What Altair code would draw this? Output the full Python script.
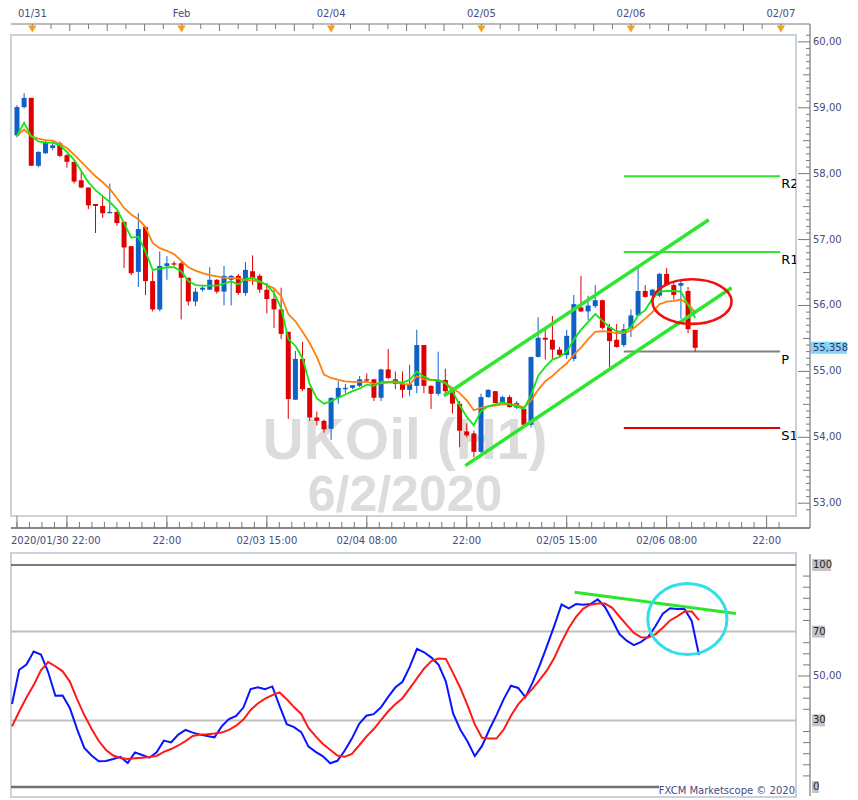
import altair as alt
import numpy as np
import pandas as pd

# ---------------- data ----------------
opens = [58.58, 59.01, 59.15, 58.12, 58.31, 58.39, 58.46, 58.28, 58.18, 57.90,
         57.79, 57.54, 57.51, 57.40, 57.42, 57.27, 56.90, 56.51, 57.19, 56.37,
         55.94, 56.60, 56.64, 56.64, 56.42, 56.06, 56.24, 56.24, 56.39, 56.21,
         56.39, 56.45, 56.19, 56.52, 56.45, 56.24, 56.10, 55.94, 55.60, 54.57,
         55.19, 54.75, 54.30, 54.25, 54.13, 54.60, 54.73, 54.75, 54.78, 54.88,
         54.88, 54.60, 55.03, 54.88, 54.81, 54.72, 54.78, 55.40, 54.78, 54.66,
         54.87, 54.70, 54.51, 54.09, 54.06, 53.78, 54.61, 54.70, 54.52, 54.61,
         54.45, 54.43, 54.19, 55.22, 55.51, 55.48, 55.33, 55.25, 55.19, 55.97,
         55.91, 55.99, 56.08, 55.67, 55.48, 55.40, 55.66, 55.85, 56.22, 56.15,
         56.15, 56.48, 56.31, 56.30, 56.22, 55.63]
closes = [59.01, 59.15, 58.12, 58.33, 58.48, 58.43, 58.27, 58.18, 57.88, 57.79,
          57.52, 57.51, 57.40, 57.42, 57.25, 56.88, 56.49, 57.16, 56.37, 55.94,
          56.60, 56.64, 56.62, 56.42, 56.06, 56.21, 56.27, 56.39, 56.21, 56.45,
          56.45, 56.19, 56.54, 56.42, 56.24, 56.10, 55.94, 55.57, 54.58, 55.19,
          54.73, 54.30, 54.25, 54.12, 54.60, 54.75, 54.75, 54.79, 54.88, 54.86,
          54.60, 55.03, 54.90, 54.81, 54.72, 54.81, 55.40, 54.78, 54.66, 54.87,
          54.70, 54.51, 54.10, 54.03, 53.78, 54.61, 54.72, 54.52, 54.61, 54.46,
          54.52, 54.19, 55.22, 55.51, 55.48, 55.33, 55.25, 55.54, 56.02, 55.91,
          56.00, 56.08, 55.66, 55.46, 55.37, 55.64, 55.85, 56.22, 56.13, 56.24,
          56.48, 56.31, 56.16, 56.34, 55.64, 55.358]
highs = [59.04, 59.22, 59.15, 58.34, 58.51, 58.48, 58.49, 58.30, 58.18, 58.03,
         57.79, 57.54, 57.66, 57.85, 57.43, 57.27, 56.90, 57.40, 57.21, 56.52,
         56.82, 56.75, 56.67, 56.66, 56.42, 56.27, 56.30, 56.58, 56.40, 56.60,
         56.46, 56.48, 56.66, 56.76, 56.48, 56.34, 56.24, 56.27, 55.60, 55.31,
         55.45, 54.75, 54.39, 54.27, 54.60, 54.85, 54.81, 54.79, 54.93, 54.97,
         54.88, 55.04, 55.34, 55.00, 55.00, 55.10, 55.63, 55.40, 54.79, 55.30,
         55.04, 54.73, 54.55, 54.21, 54.10, 54.66, 54.73, 54.70, 54.63, 54.64,
         54.55, 54.46, 55.22, 55.82, 55.64, 55.84, 55.37, 55.63, 56.16, 56.45,
         56.15, 56.31, 56.09, 55.72, 55.72, 55.72, 55.94, 56.57, 56.31, 56.25,
         56.49, 56.57, 56.34, 56.37, 56.28, 55.63]
lows = [58.55, 58.99, 58.12, 58.10, 58.30, 58.36, 58.25, 58.09, 57.85, 57.78,
        57.46, 57.10, 57.33, 57.40, 57.21, 56.57, 56.46, 56.28, 56.16, 55.91,
        55.91, 56.39, 56.60, 55.79, 56.00, 55.99, 56.21, 56.24, 56.18, 56.00,
        56.00, 56.16, 56.15, 56.31, 56.19, 55.88, 55.66, 55.49, 54.28, 54.57,
        54.70, 54.25, 54.18, 54.07, 53.96, 54.51, 54.67, 54.73, 54.76, 54.85,
        54.55, 54.55, 54.88, 54.73, 54.60, 54.63, 54.67, 54.67, 54.43, 54.63,
        54.66, 54.36, 53.85, 54.00, 53.70, 53.76, 54.60, 54.52, 54.51, 54.45,
        54.43, 54.18, 54.15, 55.21, 55.18, 55.19, 55.22, 55.19, 55.15, 55.90,
        55.78, 55.96, 55.64, 55.06, 55.36, 55.37, 55.52, 55.84, 56.12, 56.13,
        56.13, 56.30, 56.09, 55.80, 55.58, 55.30]
ma_fast = [58.58, 58.77, 58.57, 58.49, 58.47, 58.47, 58.43, 58.33, 58.21, 58.04,
           57.87, 57.75, 57.66, 57.57, 57.46, 57.25, 57.03, 57.04, 56.82, 56.54,
           56.56, 56.58, 56.58, 56.52, 56.37, 56.31, 56.30, 56.30, 56.30, 56.33,
           56.37, 56.32, 56.40, 56.42, 56.37, 56.31, 56.19, 55.96, 55.49, 55.39,
           55.20, 54.81, 54.59, 54.51, 54.55, 54.60, 54.65, 54.70, 54.74, 54.80,
           54.78, 54.84, 54.84, 54.85, 54.83, 54.87, 55.00, 54.92, 54.87, 54.87,
           54.83, 54.70, 54.49, 54.31, 54.18, 54.40, 54.47, 54.50, 54.53, 54.50,
           54.47, 54.43, 54.64, 54.93, 55.07, 55.18, 55.22, 55.30, 55.48, 55.63,
           55.75, 55.87, 55.77, 55.67, 55.61, 55.60, 55.67, 55.85, 55.93, 56.10,
           56.21, 56.22, 56.22, 56.21, 56.01, 55.81]
ma_slow = [58.58, 58.67, 58.57, 58.53, 58.51, 58.50, 58.45, 58.39, 58.29, 58.18,
           58.07, 57.96, 57.87, 57.77, 57.63, 57.48, 57.38, 57.31, 57.19, 56.95,
           56.87, 56.83, 56.78, 56.68, 56.58, 56.53, 56.49, 56.46, 56.44, 56.42,
           56.42, 56.41, 56.39, 56.38, 56.36, 56.31, 56.26, 56.14, 55.87, 55.76,
           55.60, 55.43, 55.22, 54.95, 54.90, 54.87, 54.85, 54.84, 54.84, 54.84,
           54.81, 54.82, 54.83, 54.83, 54.81, 54.80, 54.93, 54.88, 54.87, 54.86,
           54.82, 54.75, 54.67, 54.56, 54.41, 54.45, 54.47, 54.48, 54.50, 54.50,
           54.49, 54.45, 54.56, 54.72, 54.85, 54.93, 55.03, 55.12, 55.25, 55.36,
           55.49, 55.60, 55.61, 55.60, 55.58, 55.58, 55.62, 55.71, 55.80, 55.90,
           56.02, 56.06, 56.07, 56.09, 56.02, 55.90]
stoch_k = [37.4, 52.8, 55.2, 61.0, 59.7, 51.8, 41.1, 41.2, 35.6, 26.1,
           17.6, 14.2, 11.6, 11.7, 12.6, 13.6, 10.8, 15.6, 14.4, 13.2,
           15.6, 20.9, 20.1, 23.6, 25.7, 24.5, 23.6, 23.0, 22.4, 27.3,
           30.6, 32.0, 35.8, 44.1, 44.9, 44.1, 45.3, 36.5, 28.3, 27.0,
           24.7, 18.2, 15.8, 13.8, 10.7, 11.8, 16.3, 21.8, 28.4, 32.1,
           32.8, 35.8, 40.5, 44.8, 47.4, 54.1, 62.2, 60.7, 58.3, 55.0,
           47.5, 33.1, 25.8, 20.5, 13.9, 18.5, 25.8, 32.4, 39.6, 45.6,
           44.6, 40.5, 47.1, 55.0, 63.7, 72.7, 82.2, 80.5, 82.4, 82.1,
           82.4, 84.5, 81.1, 75.2, 68.9, 65.9, 63.9, 65.4, 67.8, 72.5,
           78.1, 80.5, 80.2, 80.2, 74.8, 59.5]
stoch_d = [27.3, 34.0, 40.3, 45.9, 52.6, 56.3, 54.4, 52.1, 47.5, 39.6,
           32.4, 26.2, 20.7, 16.7, 14.2, 13.1, 12.6, 12.9, 13.2, 13.5,
           14.0, 15.8, 17.1, 18.7, 20.7, 23.0, 23.6, 23.8, 24.1, 24.5,
           25.7, 27.6, 30.4, 34.7, 37.6, 39.8, 41.4, 42.6, 39.5, 36.0,
           32.9, 26.6, 22.8, 19.4, 16.8, 14.2, 13.6, 14.9, 18.7, 22.7,
           26.0, 30.0, 34.0, 37.3, 40.0, 44.4, 48.9, 53.4, 56.7, 57.9,
           57.7, 51.3, 44.6, 36.8, 28.2, 22.2, 21.8, 21.8, 25.9, 32.1,
           37.2, 40.8, 44.3, 48.4, 52.6, 58.2, 65.3, 71.6, 76.6, 80.4,
           82.1, 82.6, 82.6, 80.7, 76.8, 73.0, 69.4, 67.4, 67.3, 68.9,
           71.7, 75.0, 76.9, 79.0, 79.0, 75.2]

day_labels = ["01/31", "Feb", "02/04", "02/05", "02/06", "02/07"]
day_pos = [2.15, 23.05, 44.0, 65.05, 86.0, 107.0]
time_labels = ["2020/01/30 22:00", "22:00", "02/03 15:00", "02/04 08:00",
               "22:00", "02/05 15:00", "02/06 08:00", "22:00"]
time_pos = [0, 21, 35, 49, 63, 77, 91, 105]
time_major = [0, 7, 21, 35, 49, 63, 77, 91, 105]
price_ticks = [53, 54, 55, 56, 57, 58, 59, 60]
stoch_levels = [100, 70, 50, 30, 0]
pivot_names = ["R2", "R1", "P", "S1"]
pivot_values = [57.96, 56.81, 55.30, 54.14]
pivot_colors = ["#2ee62e", "#2ee62e", "#808080", "#e00000"]
pivot_span = [85.0, 106.9]
last_price = 55.358
chan_upper_bar = [59.8, 96.9]
chan_upper_price = [54.63, 57.30]
chan_lower_bar = [62.8, 100.1]
chan_lower_price = [53.57, 56.27]
stoch_trend_bar = [77.8, 100.1]
stoch_trend_val = [87.7, 78.2]
red_ring = [94.55, 56.06]
cyan_ring = [93.4, 75.7]

# ---------------- layout / style ----------------
W, H1, H2, GAP = 785, 481, 244, 37
X_DOMAIN = [-0.137, 108.42]
P_DOMAIN = [52.806, 60.104]
S_DOMAIN = [-4.5, 105.4]
FONT = "DejaVu Sans"
LBL = "#4a4a80"
AX = "#7a7a7a"
BLUE, RED = "#1060c8", "#e00000"
GREEN = "#2ee62e"

xs = alt.Scale(domain=X_DOMAIN, nice=False, zero=False)
ps = alt.Scale(domain=P_DOMAIN, nice=False, zero=False)
ss = alt.Scale(domain=S_DOMAIN, nice=False, zero=False)


def XQ(f):
    return alt.X(f"{f}:Q", scale=xs, axis=None, title=None)


def PQ(f):
    return alt.Y(f"{f}:Q", scale=ps, axis=None, title=None)


def SQ(f):
    return alt.Y(f"{f}:Q", scale=ss, axis=None, title=None)


def ellipse_path(b):
    k = 0.5523
    kb = k * b
    return (f"M -1 0 C -1 {-kb:.4f} {-k} {-b:.4f} 0 {-b:.4f} "
            f"C {k} {-b:.4f} 1 {-kb:.4f} 1 0 "
            f"C 1 {kb:.4f} {k} {b:.4f} 0 {b:.4f} "
            f"C {-k} {b:.4f} -1 {kb:.4f} -1 0 Z")


one = pd.DataFrame({"a": [0]})
n = len(opens)
candles = pd.DataFrame({"bar": range(n), "open": opens, "close": closes,
                        "high": highs, "low": lows, "fast": ma_fast, "slow": ma_slow,
                        "k": stoch_k, "d": stoch_d})
candles["col"] = np.where(candles["close"] >= candles["open"], BLUE, RED)
dir_color = alt.Color("col:N", scale=None, legend=None)

# ---------------- main panel ----------------
wm1 = alt.Chart(one).mark_text(font="Liberation Sans", fontWeight="bold", fontSize=57,
                               color="#dcdcdc", align="center", baseline="alphabetic").encode(
    x=alt.value(394), y=alt.value(424), text=alt.value("UKOil (H1)"))
wm2 = alt.Chart(one).mark_text(font="Liberation Sans", fontWeight="bold", fontSize=50,
                               color="#dcdcdc", align="center", baseline="alphabetic").encode(
    x=alt.value(394), y=alt.value(476), text=alt.value("6/2/2020"))

piv = pd.DataFrame({"name": pivot_names, "value": pivot_values, "col": pivot_colors,
                    "start": pivot_span[0], "end": pivot_span[1]})
pivot_lines = alt.Chart(piv).mark_rule(strokeWidth=2).encode(
    x=XQ("start"), x2="end:Q", y=PQ("value"),
    color=alt.Color("col:N", scale=None, legend=None))
pivot_text = alt.Chart(piv).mark_text(font=FONT, fontSize=13, color="black", align="left",
                                      baseline="top", dy=2, dx=1, clip=True).encode(
    x=XQ("end"), y=PQ("value"), text="name:N")

wicks = alt.Chart(candles).mark_rule(strokeWidth=1, clip=True).encode(
    x=XQ("bar"), y=PQ("low"), y2="high:Q", color=dir_color)
bodies = alt.Chart(candles).mark_bar(size=5, clip=True).encode(
    x=XQ("bar"), y=PQ("open"), y2="close:Q", color=dir_color)
slow_line = alt.Chart(candles).mark_line(color="#ff7f0f", strokeWidth=1.8, clip=True).encode(
    x=XQ("bar"), y=PQ("slow"))
fast_line = alt.Chart(candles).mark_line(color="#14e614", strokeWidth=1.8, clip=True).encode(
    x=XQ("bar"), y=PQ("fast"))

chan = pd.DataFrame({"line": ["u", "u", "l", "l"],
                     "bar": chan_upper_bar + chan_lower_bar,
                     "price": chan_upper_price + chan_lower_price})
channel = alt.Chart(chan).mark_line(color=GREEN, strokeWidth=3.5).encode(
    x=XQ("bar"), y=PQ("price"), detail="line:N")

ring1 = alt.Chart(pd.DataFrame({"bar": [red_ring[0]], "price": [red_ring[1]]})).mark_point(
    shape=ellipse_path(22.3 / 39.6), size=(2 * 39.6) ** 2, filled=False,
    color="#ee1111", strokeWidth=2.6, opacity=1).encode(x=XQ("bar"), y=PQ("price"))

# top axis strip
top_line = alt.Chart(one).mark_rule(color=AX, strokeWidth=1.2).encode(
    x=alt.value(0), x2=alt.value(W + 14), y=alt.value(-11))
step = (day_pos[-1] - day_pos[0]) / 40
tt = np.arange(day_pos[0], X_DOMAIN[1], step)
top_ticks = pd.DataFrame({"t": tt, "k": np.arange(len(tt))})
top_short = alt.Chart(top_ticks[top_ticks.k % 2 == 1]).mark_rule(color=AX).encode(
    x=XQ("t"), y=alt.value(-11), y2=alt.value(-6))
top_tall = alt.Chart(top_ticks[top_ticks.k % 2 == 0]).mark_rule(color=AX).encode(
    x=XQ("t"), y=alt.value(-11), y2=alt.value(-4))
days = pd.DataFrame({"pos": day_pos, "label": day_labels})
tri = alt.Chart(days).mark_point(shape="triangle-down", filled=True, size=70,
                                 color="#f5a020", opacity=1).encode(x=XQ("pos"), y=alt.value(-6))
day_text = alt.Chart(days).mark_text(font=FONT, fontSize=10, color=LBL, baseline="middle").encode(
    x=XQ("pos"), y=alt.value(-21), text="label:N")

# right axis
r_line = alt.Chart(one).mark_rule(color=AX, strokeWidth=1.2).encode(
    x=alt.value(W + 14), y=alt.value(-11), y2=alt.value(H1 + 12))
pt = np.round(np.arange(52.9, 60.11, 0.1), 1)
ptd = pd.DataFrame({"p": pt, "tenth": np.round(pt * 10).astype(int) % 10})
r_major = alt.Chart(ptd[ptd.tenth == 0]).mark_rule(color=AX).encode(
    x=alt.value(W + 2), x2=alt.value(W + 14), y=PQ("p"))
r_half = alt.Chart(ptd[ptd.tenth == 5]).mark_rule(color=AX).encode(
    x=alt.value(W + 7), x2=alt.value(W + 14), y=PQ("p"))
r_minor = alt.Chart(ptd[(ptd.tenth != 0) & (ptd.tenth != 5)]).mark_rule(color=AX).encode(
    x=alt.value(W + 10), x2=alt.value(W + 14), y=PQ("p"))
plab = pd.DataFrame({"p": price_ticks,
                     "label": [f"{v:.2f}".replace(".", ",") for v in price_ticks]})
r_text = alt.Chart(plab).mark_text(font=FONT, fontSize=10, color=LBL, align="left",
                                   baseline="middle").encode(
    x=alt.value(W + 17), y=PQ("p"), text="label:N")
lp = pd.DataFrame({"p": [last_price], "label": [f"{last_price:.3f}".replace(".", ",")]})
lp_box = alt.Chart(lp).transform_calculate(lo="datum.p - 0.092", hi="datum.p + 0.092").mark_rect(
    color="#84d4f6").encode(x=alt.value(W + 15), x2=alt.value(W + 51), y=PQ("lo"), y2="hi:Q")
lp_text = alt.Chart(lp).mark_text(font=FONT, fontSize=10, color="#333366", align="left",
                                  baseline="middle").encode(
    x=alt.value(W + 17), y=PQ("p"), text="label:N")

# bottom axis
b_line = alt.Chart(one).mark_rule(color="#606060", strokeWidth=1.4).encode(
    x=alt.value(0), x2=alt.value(W + 14), y=alt.value(H1 + 12))
b_minor = alt.Chart(pd.DataFrame({"t": np.arange(0, X_DOMAIN[1], 1.75)})).mark_rule(color=AX).encode(
    x=XQ("t"), y=alt.value(H1 + 6), y2=alt.value(H1 + 12))
b_major = alt.Chart(pd.DataFrame({"t": time_major})).mark_rule(color=AX).encode(
    x=XQ("t"), y=alt.value(H1), y2=alt.value(H1 + 12))
tl = pd.DataFrame({"pos": time_pos, "label": time_labels})
b_first = alt.Chart(tl.iloc[:1]).mark_text(font=FONT, fontSize=10, color=LBL, align="left",
                                           baseline="middle").encode(
    x=alt.value(0), y=alt.value(H1 + 25), text="label:N")
b_text = alt.Chart(tl.iloc[1:]).mark_text(font=FONT, fontSize=10, color=LBL, align="center",
                                          baseline="middle").encode(
    x=XQ("pos"), y=alt.value(H1 + 25), text="label:N")

main = alt.layer(wm1, wm2, pivot_lines, wicks, bodies, slow_line, fast_line, channel, ring1,
                 pivot_text, top_line, top_short, top_tall, tri, day_text,
                 r_line, r_major, r_half, r_minor, r_text, lp_box, lp_text,
                 b_line, b_minor, b_major, b_first, b_text).properties(width=W, height=H1)

# ---------------- stochastic panel ----------------
lv = pd.DataFrame({"v": stoch_levels})
lvl_dark = alt.Chart(lv[lv.v == 100]).mark_rule(color="#505050", strokeWidth=1.6).encode(
    x=alt.value(0), x2=alt.value(W), y=SQ("v"))
lvl_gray = alt.Chart(lv[lv.v.isin([70, 30])]).mark_rule(color="#c0c0c0", strokeWidth=2).encode(
    x=alt.value(0), x2=alt.value(W), y=SQ("v"))
lvl_zero = alt.Chart(lv[lv.v == 0]).mark_rule(color="#707070", strokeWidth=2.5).encode(
    x=alt.value(0), x2=alt.value(648), y=SQ("v"))
k_line = alt.Chart(candles).mark_line(color="#0a14ff", strokeWidth=2, clip=True).encode(
    x=XQ("bar"), y=SQ("k"))
d_line = alt.Chart(candles).mark_line(color="#ff1a1a", strokeWidth=2, clip=True).encode(
    x=XQ("bar"), y=SQ("d"))
trend = alt.Chart(pd.DataFrame({"bar": stoch_trend_bar, "v": stoch_trend_val})).mark_line(
    color=GREEN, strokeWidth=3).encode(x=XQ("bar"), y=SQ("v"))
ring2 = alt.Chart(pd.DataFrame({"bar": [cyan_ring[0]], "v": [cyan_ring[1]]})).mark_point(
    shape=ellipse_path(35.5 / 39.6), size=(2 * 39.6) ** 2, filled=False,
    color="#33dde9", strokeWidth=3, opacity=1).encode(x=XQ("bar"), y=SQ("v"))

s_line = alt.Chart(one).mark_rule(color=AX, strokeWidth=1.2).encode(
    x=alt.value(W + 14), y=alt.value(1), y2=alt.value(H2 - 1))
st = pd.DataFrame({"v": np.arange(5, 100, 5)})
s_minor = alt.Chart(st[~st.v.isin([30, 50, 70])]).mark_rule(color=AX).encode(
    x=alt.value(W + 7), x2=alt.value(W + 14), y=SQ("v"))
s_major = alt.Chart(st[st.v == 50]).mark_rule(color=AX).encode(
    x=alt.value(W + 2), x2=alt.value(W + 14), y=SQ("v"))
s_layers = []
for lvl in stoch_levels:
    if lvl == 50:
        continue
    w = 6 * len(str(lvl)) + 1
    s_layers.append(
        alt.Chart(pd.DataFrame({"v": [lvl]})).transform_calculate(
            lo="datum.v - 2.7", hi="datum.v + 2.7").mark_rect(color="#c4c4c4").encode(
            x=alt.value(W + 16), x2=alt.value(W + 16 + w), y=SQ("lo"), y2="hi:Q"))
sl = pd.DataFrame({"v": stoch_levels,
                   "label": ["100", "70", "50,00", "30", "0"]})
s_text_box = alt.Chart(sl[sl.v != 50]).mark_text(font=FONT, fontSize=10, color="#222222",
                                                 align="left", baseline="middle").encode(
    x=alt.value(W + 17), y=SQ("v"), text="label:N")
s_text_mid = alt.Chart(sl[sl.v == 50]).mark_text(font=FONT, fontSize=10, color=LBL,
                                                 align="left", baseline="middle").encode(
    x=alt.value(W + 17), y=SQ("v"), text="label:N")
fxcm = alt.Chart(one).mark_text(font=FONT, fontSize=10, color=LBL, align="right",
                                baseline="middle").encode(
    x=alt.value(W - 1), y=alt.value(H2 - 6), text=alt.value("FXCM Marketscope © 2020"))

lower = alt.layer(lvl_dark, lvl_gray, lvl_zero, k_line, d_line, trend, ring2,
                  s_line, s_minor, s_major, *s_layers, s_text_box, s_text_mid, fxcm
                  ).properties(width=W, height=H2)

chart = alt.vconcat(main, lower, spacing=GAP, bounds="flush").properties(
    padding=0).configure_view(stroke="#c8d3de", strokeWidth=2)

chart.save("out.html", embed_options={"renderer": "svg", "actions": False})
